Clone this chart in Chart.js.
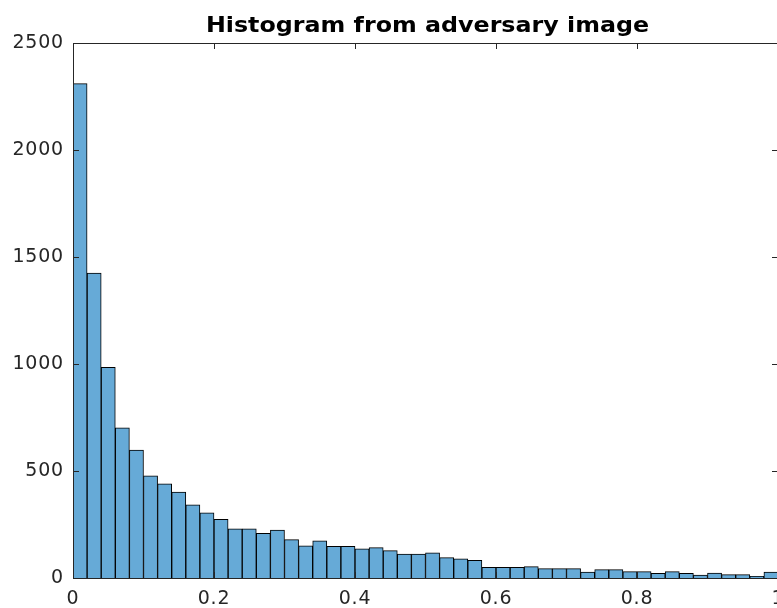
<!DOCTYPE html>
<html>
<head>
<meta charset="utf-8">
<title>Histogram from adversary image</title>
<script src="https://cdn.jsdelivr.net/npm/chart.js@4.4.0/dist/chart.umd.min.js"></script>
<style>
    html, body { margin: 0; padding: 0; background: #fff; overflow: hidden; }
    #wrap { width: 780px; height: 608px; }
</style>
</head>
<body>
<div id="wrap"><canvas id="histChart"></canvas></div>
<script>
// Istogramma: 50 bin di larghezza 0.02 tra 0 e 1
const binWidth = 0.02;
const binCounts = [
    2310, 1425, 985, 702, 598, 477, 440, 402, 342, 305,
    274, 230, 230, 209, 224, 179, 150, 174, 148, 148,
    136, 142, 128, 112, 112, 118, 95, 89, 83, 50,
    50, 50, 53, 44, 44, 44, 28, 39, 39, 30,
    30, 22, 30, 22, 14, 23, 16, 16, 8, 28
];
const xTicks = [0, 0.2, 0.4, 0.6, 0.8, 1];
const yTicks = [0, 500, 1000, 1500, 2000, 2500];
const chartTitle = 'Histogram from adversary image';

const binCenters = binCounts.map((c, i) => (i + 0.5) * binWidth);
const axisColor = '#262626';
const tickFont = { family: 'DejaVu Sans', size: 19 };

// Spaziatura delle etichette e titolo (leggermente allargato) sopra il grafico
const titleAndSpacing = {
    id: 'titleAndSpacing',
    beforeDraw(chart) {
        chart.ctx.letterSpacing = '0.8px';
    },
    afterDraw(chart) {
        const { ctx, chartArea: a } = chart;
        const sx = 1.08;
        ctx.save();
        ctx.letterSpacing = '0px';
        ctx.font = 'bold 22px "DejaVu Sans"';
        ctx.fillStyle = '#000';
        ctx.textAlign = 'center';
        ctx.textBaseline = 'alphabetic';
        ctx.translate((a.left + a.right) / 2 + 2, 32);
        ctx.scale(sx, 1);
        ctx.fillText(chartTitle, 0, 0);
        ctx.restore();
    }
};

// Cornice degli assi con tacche verso l'interno, disegnata sopra le barre
const axesBox = {
    id: 'axesBox',
    afterDatasetsDraw(chart) {
        const { ctx, chartArea: a, scales } = chart;
        const len = 6;
        ctx.save();
        ctx.strokeStyle = axisColor;
        ctx.lineWidth = 1;
        ctx.beginPath();
        ctx.rect(a.left + 0.5, a.top + 0.5, a.right - a.left, a.bottom - a.top);
        xTicks.forEach(v => {
            const x = Math.round(scales.x.getPixelForValue(v)) + 0.5;
            ctx.moveTo(x, a.bottom); ctx.lineTo(x, a.bottom - len);
            ctx.moveTo(x, a.top); ctx.lineTo(x, a.top + len);
        });
        yTicks.forEach(v => {
            const y = Math.round(scales.y.getPixelForValue(v)) + 0.5;
            ctx.moveTo(a.left, y); ctx.lineTo(a.left + len, y);
            ctx.moveTo(a.right, y); ctx.lineTo(a.right - len, y);
        });
        ctx.stroke();
        ctx.restore();
    }
};

const ctx = document.getElementById('histChart').getContext('2d');
new Chart(ctx, {
    type: 'bar',
    data: {
        datasets: [{
            data: binCenters.map((x, i) => ({ x: x, y: binCounts[i] })),
            backgroundColor: 'rgb(102, 170, 215)',
            borderColor: '#000',
            borderWidth: 1,
            barPercentage: 1,
            categoryPercentage: 1
        }]
    },
    options: {
        responsive: true,
        maintainAspectRatio: false,
        animation: false,
        layout: { padding: { left: 0, right: 2, top: 43, bottom: 0 } },
        scales: {
            x: {
                type: 'linear',
                min: 0,
                max: 1,
                offset: false,
                grid: { display: false, drawTicks: false },
                border: { display: false },
                afterBuildTicks(scale) {
                    scale.ticks = xTicks.map(v => ({ value: v }));
                },
                afterFit(scale) {
                    scale.height = 30;
                    scale.paddingLeft = 0;
                    scale.paddingRight = 0;
                },
                ticks: {
                    color: axisColor,
                    font: tickFont,
                    padding: 10,
                    maxRotation: 0,
                    autoSkip: false,
                    callback: v => String(v)
                }
            },
            y: {
                min: 0,
                max: 2500,
                grid: { display: false, drawTicks: false },
                border: { display: false },
                afterBuildTicks(scale) {
                    scale.ticks = yTicks.map(v => ({ value: v }));
                },
                afterFit(scale) {
                    scale.width = 73;
                    scale.paddingTop = 0;
                    scale.paddingBottom = 0;
                },
                ticks: {
                    color: axisColor,
                    font: tickFont,
                    padding: 9,
                    callback: v => String(v)
                }
            }
        },
        plugins: {
            legend: { display: false },
            tooltip: { enabled: false },
            title: { display: false }
        }
    },
    plugins: [axesBox, titleAndSpacing]
});
</script>
</body>
</html>
